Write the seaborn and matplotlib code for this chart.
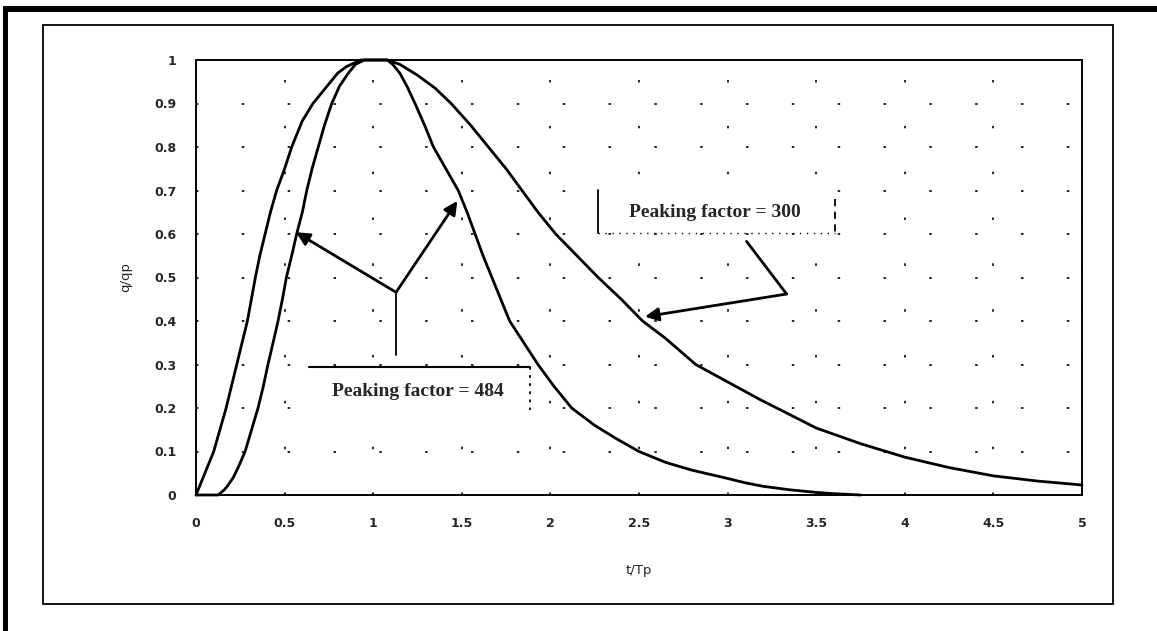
import matplotlib
matplotlib.use("Agg")
import matplotlib.pyplot as plt
import seaborn as sns
import pandas as pd
from matplotlib.patches import Rectangle
from matplotlib.lines import Line2D

# ---- data ----
t_pf300 = [0, 0.05, 0.1, 0.17, 0.23, 0.29, 0.335, 0.36, 0.39, 0.42, 0.455, 0.5, 0.54, 0.6,
           0.66, 0.72, 0.8, 0.85, 0.93, 1.0, 1.08, 1.15, 1.25, 1.35, 1.44, 1.55, 1.65, 1.75,
           1.84, 1.93, 2.03, 2.15, 2.27, 2.4, 2.52, 2.65, 2.82, 3.0, 3.18, 3.35, 3.5, 3.75,
           4.0, 4.25, 4.5, 4.75, 5.0]
q_pf300 = [0, 0.05, 0.1, 0.2, 0.3, 0.4, 0.5, 0.55, 0.6, 0.65, 0.7, 0.75, 0.8, 0.86,
           0.9, 0.93, 0.97, 0.985, 1.0, 1.0, 1.0, 0.99, 0.965, 0.935, 0.9, 0.85, 0.8, 0.75,
           0.7, 0.65, 0.6, 0.55, 0.5, 0.45, 0.4, 0.36, 0.3, 0.26, 0.22, 0.185, 0.154, 0.118,
           0.087, 0.063, 0.044, 0.032, 0.023]

t_pf484 = [0, 0.125, 0.16, 0.18, 0.21, 0.24, 0.277, 0.31, 0.35, 0.38, 0.406, 0.435, 0.463,
           0.49, 0.51, 0.54, 0.568, 0.6, 0.625, 0.655, 0.69, 0.725, 0.766, 0.81, 0.86, 0.9,
           0.95, 1.0, 1.04, 1.08, 1.11, 1.15, 1.19, 1.236, 1.29, 1.34, 1.41, 1.48, 1.53,
           1.575, 1.62, 1.67, 1.72, 1.77, 1.85, 1.93, 2.02, 2.12, 2.25, 2.37, 2.5, 2.65,
           2.8, 3.0, 3.1, 3.2, 3.35, 3.5, 3.6, 3.75]
q_pf484 = [0, 0, 0.012, 0.022, 0.04, 0.065, 0.1, 0.145, 0.2, 0.25, 0.3, 0.35, 0.4,
           0.455, 0.5, 0.55, 0.6, 0.65, 0.7, 0.75, 0.8, 0.85, 0.9, 0.94, 0.97, 0.99,
           1.0, 1.0, 1.0, 1.0, 0.99, 0.97, 0.94, 0.9, 0.85, 0.8, 0.75, 0.7, 0.65,
           0.6, 0.55, 0.5, 0.45, 0.4, 0.35, 0.3, 0.25, 0.2, 0.16, 0.13, 0.1, 0.075,
           0.057, 0.038, 0.028, 0.02, 0.012, 0.006, 0.003, 0.0]

x_ticks = [0, 0.5, 1, 1.5, 2, 2.5, 3, 3.5, 4, 4.5, 5]
x_tick_labels = ["0", "0.5", "1", "1.5", "2", "2.5", "3", "3.5", "4", "4.5", "5"]
y_ticks = [0, 0.1, 0.2, 0.3, 0.4, 0.5, 0.6, 0.7, 0.8, 0.9, 1]
y_tick_labels = ["0", "0.1", "0.2", "0.3", "0.4", "0.5", "0.6", "0.7", "0.8", "0.9", "1"]

label_484 = "Peaking factor = 484"
label_300 = "Peaking factor = 300"

df = pd.concat([
    pd.DataFrame({"t": t_pf300, "q": q_pf300, "series": "PF300"}),
    pd.DataFrame({"t": t_pf484, "q": q_pf484, "series": "PF484"}),
], ignore_index=True)

sns.set_style("white")
plt.rcParams["font.family"] = ["DejaVu Sans"]

W, H = 1157, 631
fig = plt.figure(figsize=(W / 100, H / 100), dpi=100)
fig.patch.set_facecolor("white")

# outer scan frame (thick black band top and left)
fig.add_artist(Rectangle((3 / W, 1 - 12 / H), 1 - 3 / W, 6 / H, transform=fig.transFigure,
                         facecolor="black", edgecolor="none"))
fig.add_artist(Rectangle((3 / W, 0), 5 / W, 1 - 6 / H, transform=fig.transFigure,
                         facecolor="black", edgecolor="none"))
# chart area box
fig.add_artist(Rectangle((43 / W, 1 - 604 / H), (1113 - 43) / W, (604 - 25) / H,
                         transform=fig.transFigure, facecolor="none",
                         edgecolor="black", linewidth=1.3))

ax = fig.add_axes([196 / W, 1 - 495 / H, (1082 - 196) / W, (495 - 60) / H])
ax.set_facecolor("white")

sns.lineplot(data=df, x="t", y="q", units="series", estimator=None, sort=False,
             color="black", linewidth=2.0, ax=ax, legend=False, clip_on=False)

ax.set_xlim(0, 5)
ax.set_ylim(0, 1)
ax.set_xticks(x_ticks)
ax.set_xticklabels(x_tick_labels)
ax.set_yticks(y_ticks)
ax.set_yticklabels(y_tick_labels)
ax.tick_params(axis="both", length=0, labelsize=9, pad=14)
ax.tick_params(axis="x", pad=16)
for lbl in ax.get_xticklabels() + ax.get_yticklabels():
    lbl.set_fontweight("bold")
ax.set_xlabel("t/Tp", fontsize=9.5, labelpad=24)
ax.set_ylabel("q/qp", fontsize=9.5, labelpad=16)

ax.grid(True, linestyle=(0, (1.5, 26)), color="black", linewidth=1.2)
for s in ax.spines.values():
    s.set_color("black")
    s.set_linewidth(1.4)
    s.set_visible(True)

# annotation: PF = 484
arrow_kw = dict(arrowstyle="-|>", color="black", lw=2.0, mutation_scale=20, shrinkA=0, shrinkB=0)
branch = (1.129, 0.466)
ax.annotate("", xy=(0.564, 0.604), xytext=branch, arrowprops=arrow_kw)
ax.annotate("", xy=(1.475, 0.676), xytext=branch, arrowprops=arrow_kw)
ax.add_line(Line2D([1.129, 1.129], [0.466, 0.322], color="black", lw=1.3))
ax.add_patch(Rectangle((0.63, 0.195), 1.255, 0.099, facecolor="white", edgecolor="none", zorder=3))
ax.add_line(Line2D([0.64, 1.885], [0.294, 0.294], color="black", lw=1.5, zorder=4))
ax.add_line(Line2D([1.885, 1.885], [0.294, 0.195], color="black", lw=1.3,
                   linestyle=(0, (1.5, 3)), zorder=4))
ax.text(1.25, 0.237, label_484, ha="center", va="center", fontsize=14,
        family="Liberation Serif", fontweight="bold", zorder=5)

# annotation: PF = 300
ax.add_patch(Rectangle((2.27, 0.602), 1.336, 0.099, facecolor="white", edgecolor="none", zorder=3))
ax.add_line(Line2D([2.269, 2.269], [0.701, 0.602], color="black", lw=1.3, zorder=4))
ax.add_line(Line2D([3.606, 3.606], [0.68, 0.602], color="black", lw=1.3,
                   linestyle=(0, (4, 3)), zorder=4))
ax.add_line(Line2D([2.269, 3.606], [0.602, 0.602], color="black", lw=1.0,
                   linestyle=(0, (1, 4)), zorder=4))
ax.text(2.93, 0.65, label_300, ha="center", va="center", fontsize=14,
        family="Liberation Serif", fontweight="bold", zorder=5)
ax.add_line(Line2D([3.107, 3.333], [0.583, 0.462], color="black", lw=2.0))
ax.annotate("", xy=(2.534, 0.41), xytext=(3.333, 0.462), arrowprops=arrow_kw)

fig.savefig("out.png", dpi=100, facecolor="white")
